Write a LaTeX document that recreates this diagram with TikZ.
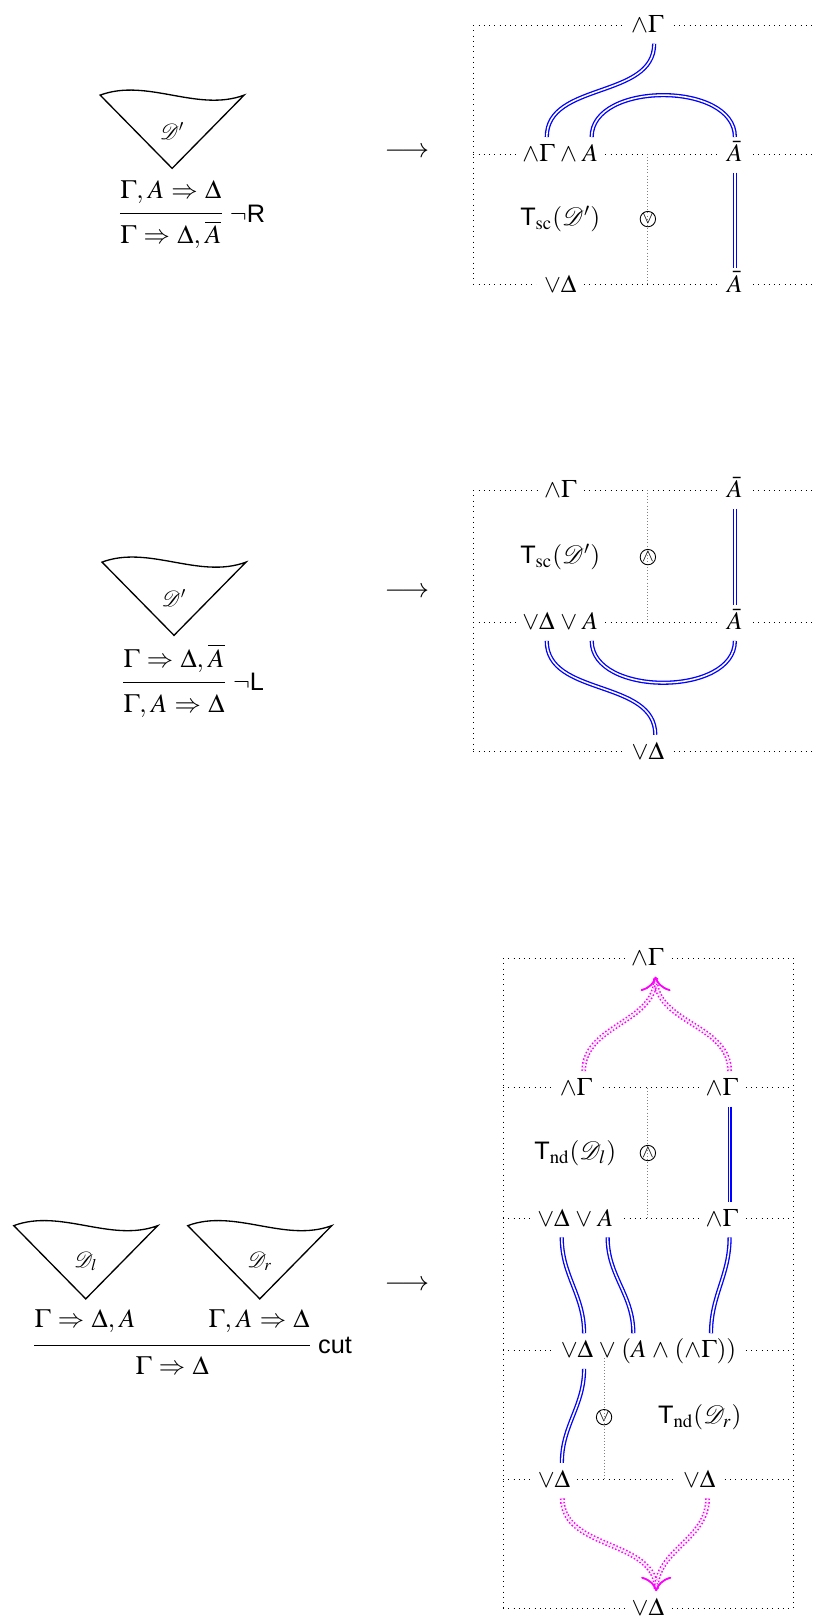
\documentclass[tikz,border=0pt]{standalone}
\usepackage{amsmath}
\usepackage{mathptmx}
\usepackage[no-math]{fontspec}
\setmainfont{Liberation Serif}
\setsansfont{Liberation Sans}
\usetikzlibrary{arrows.meta,positioning,calc}
\definecolor{flowc}{RGB}{255,0,255}
\thinmuskip=3mu
\medmuskip=4mu
\thickmuskip=5mu

\tikzset{pics/deriv/.style={code={
  \draw[semithick] (-1.15,1.17) .. controls (-0.4,1.45) and (0.4,0.89) .. (1.15,1.17) -- (0,0) -- cycle;
  \node[font=\normalsize] (-lab) at (0,0.6) {#1};
}}}

\begin{document}
\begin{tikzpicture}[>=Stealth]
\tikzstyle{lab}=[fill=white,inner xsep=3pt,inner ysep=0pt,text height=11pt,text depth=4.8pt,anchor=mid,yshift=-1.2pt,font=\fontsize{11.5}{14}\selectfont]
\tikzstyle{seq}=[inner sep=0pt,anchor=base,font=\fontsize{12}{14}\selectfont]
\tikzstyle{tag}=[font=\fontsize{11.5}{13}\selectfont]
\tikzstyle{op}=[circle,draw,inner sep=0pt,minimum size=7pt,font=\footnotesize]
\tikzstyle{frm}=[dotted]
\tikzstyle{sep}=[densely dotted,gray]
\tikzstyle{wire}=[draw=blue,double=white,line width=0.6pt,double distance=0.7pt]
\tikzstyle{flow}=[draw=flowc,double=white,dash pattern=on 0.7pt off 0.9pt,line width=0.7pt,double distance=0.8pt,-{To}]
\tikzstyle{rl}=[font=\fontsize{11.5}{13}\sffamily,anchor=west,inner sep=0pt,xshift=3.5pt]
\tikzstyle{to}=[font=\fontsize{12.5}{15}\selectfont]
\useasboundingbox (0,0) rectangle (13.02,25.88);

% negation right
\pic (dr1) at (2.75,23.19) {deriv={$\mathcal{D}'$}};
\node[seq] (p1) at (2.73,22.71) {$\Gamma, A \Rightarrow \Delta$};
\node[seq] (c1) at (2.73,21.99) {$\Gamma \Rightarrow \Delta, \overline{A}$};
\coordinate (l1) at (2.73,22.47);
\draw (c1.west |- l1) -- (c1.east |- l1) node[rl] (n1) {$\neg$R};
\node[to] (arr1) at (6.50,23.44) {$\longrightarrow$};

\draw[frm] (7.56,25.48) -- (13.02,25.48) (7.56,23.42) -- (13.02,23.42)
  (7.56,21.33) -- (13.02,21.33) (7.56,25.48) -- (7.56,21.33);
\draw[sep] (10.35,23.42) -- (10.35,21.33);
\node[lab] (g0) at (10.34,25.48) {$\wedge\Gamma$};
\node[lab] (g1) at (8.95,23.42) {$\wedge\Gamma \wedge A$};
\node[lab] (a1) at (11.74,23.42) {$\bar{A}$};
\node[lab] (d1) at (8.95,21.33) {$\vee\Delta$};
\node[lab] (a2) at (11.74,21.33) {$\bar{A}$};
\node[tag] (t1) at (8.95,22.38) {$\textsf{T}_{\mathrm{sc}}(\mathcal{D}')$};
\node[op] (o1) at (10.35,22.38) {$\vee$};
\draw[wire] ($(g0.south west)!0.65!(g0.south east)$) to[out=-90,in=90] ($(g1.north west)!0.35!(g1.north east)$);
\draw[wire] ($(g1.north west)!0.85!(g1.north east)$) to[out=90,in=90] (a1.north);
\draw[wire] (a1.south) -- (a2.north);

% negation left
\pic (dr2) at (2.78,15.73) {deriv={$\mathcal{D}'$}};
\node[seq] (p2) at (2.78,15.22) {$\Gamma \Rightarrow \Delta, \overline{A}$};
\node[seq] (c2) at (2.78,14.50) {$\Gamma, A \Rightarrow \Delta$};
\coordinate (l2) at (2.78,14.98);
\draw (p2.west |- l2) -- (p2.east |- l2) node[rl] (n2) {$\neg$L};
\node[to] (arr2) at (6.50,16.42) {$\longrightarrow$};

\draw[frm] (7.56,18.05) -- (13.02,18.05) (7.56,15.94) -- (13.02,15.94)
  (7.56,13.87) -- (13.02,13.87) (7.56,18.05) -- (7.56,13.87);
\draw[sep] (10.35,18.05) -- (10.35,15.94);
\node[lab] (g2) at (8.95,18.05) {$\wedge\Gamma$};
\node[lab] (a3) at (11.74,18.05) {$\bar{A}$};
\node[lab] (d2) at (8.95,15.94) {$\vee\Delta \vee A$};
\node[lab] (a4) at (11.74,15.94) {$\bar{A}$};
\node[lab] (d3) at (10.35,13.87) {$\vee\Delta$};
\node[tag] (t2) at (8.95,16.98) {$\textsf{T}_{\mathrm{sc}}(\mathcal{D}')$};
\node[op] (o2) at (10.35,16.98) {$\wedge$};
\draw[wire] (a3.south) -- (a4.north);
\draw[wire] ($(d2.south west)!0.35!(d2.south east)$) to[out=-90,in=90] ($(d3.north west)!0.66!(d3.north east)$);
\draw[wire] ($(d2.south west)!0.85!(d2.south east)$) to[out=-90,in=-90] (a4.south);

% cut
\pic (dl) at (1.37,5.13) {deriv={$\mathcal{D}_l$}};
\pic (dr) at (4.15,5.13) {deriv={$\mathcal{D}_r$}};
\node[seq] (p3) at (1.36,4.665) {$\Gamma \Rightarrow \Delta, A$};
\node[seq] (p4) at (4.14,4.665) {$\Gamma, A \Rightarrow \Delta$};
\node[seq] (c3) at (2.75,3.914) {$\Gamma \Rightarrow \Delta$};
\coordinate (l3) at (2.75,4.393);
\draw (p3.west |- l3) -- (p4.east |- l3) node[rl] (n3) {cut};
\node[to] (arr3) at (6.50,5.35) {$\longrightarrow$};

\draw[frm] (8.035,10.575) -- (12.67,10.575) (8.035,8.50) -- (12.67,8.50)
  (8.035,6.41) -- (12.67,6.41) (8.035,4.31) -- (12.67,4.31)
  (8.035,2.24) -- (12.67,2.24) (8.035,0.19) -- (12.67,0.19)
  (8.035,10.575) -- (8.035,0.19) (12.67,10.575) -- (12.67,0.19);
\draw[sep] (10.35,8.50) -- (10.35,6.41);
\node[lab] (g3) at (10.34,10.575) {$\wedge\Gamma$};
\node[lab] (g4) at (9.20,8.50) {$\wedge\Gamma$};
\node[lab] (g5) at (11.53,8.50) {$\wedge\Gamma$};
\node[tag] (t3) at (9.19,7.46) {$\textsf{T}_{\mathrm{nd}}(\mathcal{D}_l)$};
\node[op] (o3) at (10.35,7.46) {$\wedge$};
\node[lab] (d4) at (9.19,6.41) {$\vee\Delta \vee A$};
\node[lab] (g6) at (11.53,6.41) {$\wedge\Gamma$};
\node[lab] (d5) at (10.36,4.31) {$\vee\Delta \vee (A \wedge (\wedge\Gamma))$};
\node[op] (o4) at (9.65,3.24) {$\vee$};
\node[tag] (t4) at (11.18,3.24) {$\textsf{T}_{\mathrm{nd}}(\mathcal{D}_r)$};
\node[lab] (d6) at (8.85,2.24) {$\vee\Delta$};
\node[lab] (d7) at (11.17,2.24) {$\vee\Delta$};
\node[lab] (d8) at (10.35,0.19) {$\vee\Delta$};
\draw[sep] (d5.base -| o4) -- (o4 |- d6);
\draw[flow] ($(g4.north west)!0.67!(g4.north east)$) to[out=90,in=-90] ($(g3.south west)!0.68!(g3.south east)$);
\draw[flow] ($(g5.north west)!0.67!(g5.north east)$) to[out=90,in=-90] ($(g3.south west)!0.68!(g3.south east)$);
\draw[wire] ($(g5.south west)!0.67!(g5.south east)$) -- ($(g6.north west)!0.67!(g6.north east)$);
\draw[wire] ($(d4.south west)!0.35!(d4.south east)$) to[out=-90,in=90] ($(d5.north west)!0.16!(d5.north east)$);
\draw[wire] ($(d4.south west)!0.86!(d4.south east)$) to[out=-90,in=90] ($(d5.north west)!0.42!(d5.north east)$);
\draw[wire] ($(g6.south west)!0.67!(g6.south east)$) to[out=-90,in=90] ($(d5.north west)!0.83!(d5.north east)$);
\draw[wire] ($(d5.south west)!0.16!(d5.south east)$) to[out=-90,in=90] ($(d6.north west)!0.67!(d6.north east)$);
\draw[flow] ($(d6.south west)!0.68!(d6.south east)$) to[out=-90,in=90] ($(d8.north west)!0.68!(d8.north east)$);
\draw[flow] ($(d7.south west)!0.68!(d7.south east)$) to[out=-90,in=90] ($(d8.north west)!0.68!(d8.north east)$);
\end{tikzpicture}
\end{document}
